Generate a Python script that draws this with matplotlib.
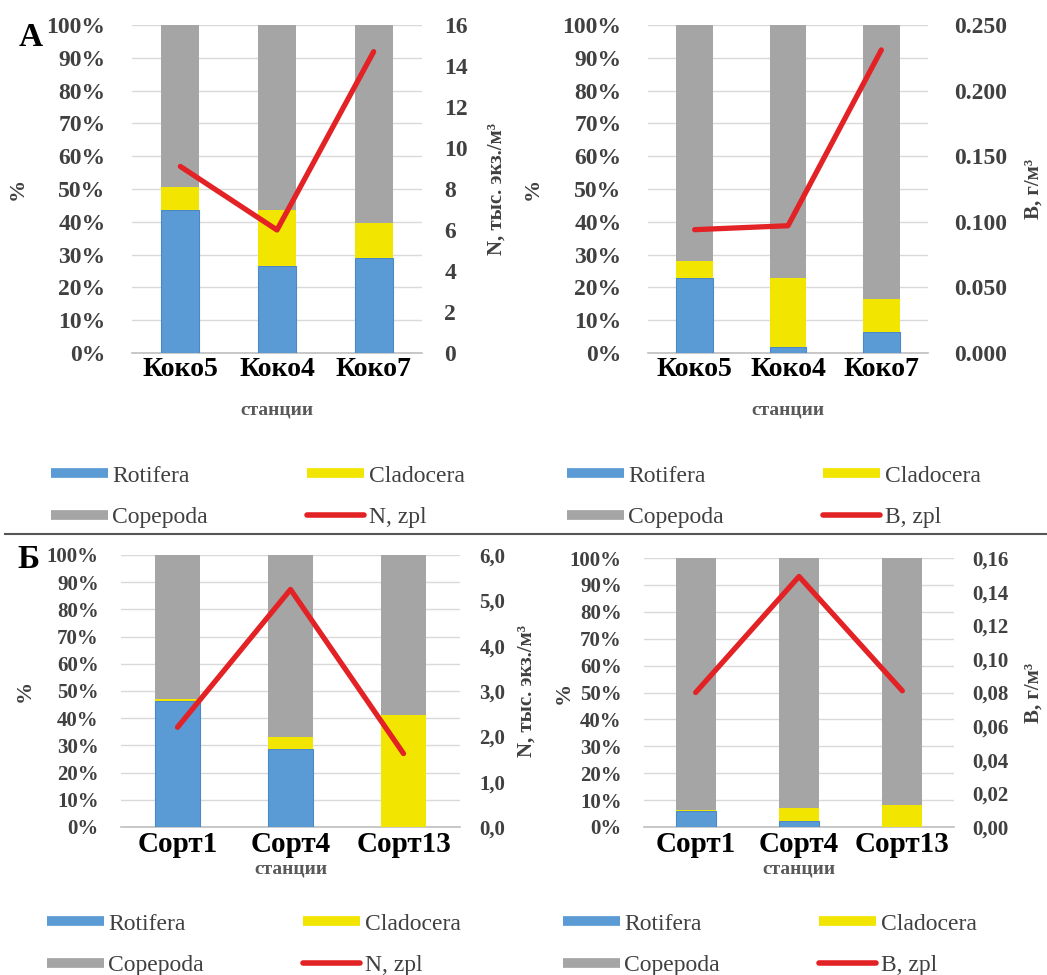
import numpy as np
import matplotlib
matplotlib.use("Agg")
import matplotlib.pyplot as plt
from matplotlib.lines import Line2D
from matplotlib.ticker import FuncFormatter

plt.rcParams['font.family'] = ['Liberation Serif', 'DejaVu Serif']

# =========================
# DATOS
# =========================
stations_koko = ["Коко5", "Коко4", "Коко7"]
stations_sort = ["Сорт1", "Сорт4", "Сорт13"]

# А, численность (%)
rot_n_koko  = [43.5, 26.5, 29.0]
clad_n_koko = [7.0, 17.0, 10.5]
cop_n_koko  = [49.5, 56.5, 60.5]
n_koko      = [9.1, 6.0, 14.7]

# А, биомасса (%)
rot_b_koko  = [23.0, 1.8, 6.5]
clad_b_koko = [5.0, 21.2, 10.0]
cop_b_koko  = [72.0, 77.0, 83.5]
b_koko      = [0.094, 0.097, 0.231]

# Б, численность (%)
rot_n_sort  = [46.5, 28.5, 0.0]
clad_n_sort = [0.5, 4.5, 41.0]
cop_n_sort  = [53.0, 67.0, 59.0]
n_sort      = [2.2, 5.24, 1.62]

# Б, биомасса (%)
rot_b_sort  = [6.0, 2.2, 0.0]
clad_b_sort = [0.5, 5.0, 8.2]
cop_b_sort  = [93.5, 92.8, 91.8]
b_sort      = [0.080, 0.149, 0.081]

BLUE   = "#5b9bd5"
YELLOW = "#f2e500"
GRAY   = "#a5a5a5"
RED    = "#e32226"
TXT    = "#404040"

fig = plt.figure(figsize=(10.47, 9.75), dpi=100)
W, H = 1047.0, 975.0


def rect(x0, y0, x1, y1):
    return [x0 / W, 1 - y1 / H, (x1 - x0) / W, (y1 - y0) / H]


def panel(r, names, rot, clad, cop, line, ymax2, step2, fmt2, ylab2,
          fs_y, fs_x, padl, padr, lab_x_left, lab_x_right, xlabpad):
    ax = fig.add_axes(r)
    x = np.arange(len(names))
    w = 0.39
    ax.bar(x, rot, w, color=BLUE, edgecolor="#4a88c6", linewidth=0.8, zorder=3)
    ax.bar(x, clad, w, bottom=rot, color=YELLOW, zorder=3)
    ax.bar(x, cop, w, bottom=np.add(rot, clad), color=GRAY, zorder=3)
    ax.set_xlim(-0.5, len(names) - 0.5)
    ax.set_ylim(0, 100)
    ax.set_yticks(np.arange(0, 101, 10))
    ax.set_yticklabels([f"{v}%" for v in range(0, 101, 10)])
    ax.yaxis.grid(True, color="#d9d9d9", linewidth=1.0, zorder=0)
    ax.set_axisbelow(True)
    for s in ["top", "right", "left"]:
        ax.spines[s].set_visible(False)
    ax.spines["bottom"].set_color("#bfbfbf")
    ax.spines["bottom"].set_linewidth(1.2)
    ax.tick_params(axis="y", length=0, pad=padl, labelsize=fs_y, labelcolor=TXT)
    ax.tick_params(axis="x", length=0, pad=3, labelsize=fs_x)
    ax.set_xticks(x)
    ax.set_xticklabels(names, fontweight="bold")
    for t in ax.get_yticklabels():
        t.set_fontweight("bold")
    ax.set_xlabel("станции", fontsize=14, fontweight="bold", color="#595959",
                  labelpad=xlabpad)

    ax2 = ax.twinx()
    ax2.plot(x, line, color=RED, linewidth=3.8, solid_capstyle="round", zorder=5)
    ax2.set_ylim(0, ymax2)
    ax2.set_yticks(np.arange(0, ymax2 + step2 / 2, step2))
    ax2.yaxis.set_major_formatter(FuncFormatter(fmt2))
    for s in ["top", "right", "left", "bottom"]:
        ax2.spines[s].set_visible(False)
    ax2.tick_params(axis="y", length=0, pad=padr, labelsize=fs_y, labelcolor=TXT)
    for t in ax2.get_yticklabels():
        t.set_fontweight("bold")

    # подписи осей
    yc = r[1] + r[3] / 2
    fig.text(lab_x_left / W, yc, "%", rotation=90, ha="center", va="center",
             fontsize=16, fontweight="bold", color=TXT)
    fig.text(lab_x_right / W, yc, ylab2, rotation=90, ha="center", va="center",
             fontsize=15, fontweight="bold", color=TXT)
    return ax


panel(rect(132, 25, 422, 353), stations_koko, rot_n_koko, clad_n_koko, cop_n_koko,
      n_koko, 16, 2, lambda v, p: f"{v:.0f}", "N, тыс. экз./м³",
      17, 20, 19, 16, 18, 497, 14)
panel(rect(648, 25, 928, 353), stations_koko, rot_b_koko, clad_b_koko, cop_b_koko,
      b_koko, 0.25, 0.05, lambda v, p: f"{v:.3f}", "B, г/м³",
      17, 20, 19, 19, 533, 1034, 14)
panel(rect(121, 555, 460, 827), stations_sort, rot_n_sort, clad_n_sort, cop_n_sort,
      n_sort, 6, 1, lambda v, p: f"{v:.1f}".replace(".", ","), "N, тыс. экз./м³",
      15, 21, 16, 14, 25, 527, 2)
panel(rect(644, 558, 954, 827), stations_sort, rot_b_sort, clad_b_sort, cop_b_sort,
      b_sort, 0.16, 0.02, lambda v, p: f"{v:.2f}".replace(".", ","), "B, г/м³",
      15, 21, 16, 13, 564, 1034, 2)

# =========================
# ЛЕГЕНДЫ
# =========================
def legend(x0, y0, line_label):
    handles = [Line2D([], [], color=BLUE, lw=7, solid_capstyle="butt"),
               Line2D([], [], color=GRAY, lw=7, solid_capstyle="butt"),
               Line2D([], [], color=YELLOW, lw=7, solid_capstyle="butt"),
               Line2D([], [], color=RED, lw=4, solid_capstyle="round")]
    labels = ["Rotifera", "Copepoda", "Cladocera", line_label]
    fig.legend(handles, labels, loc="upper left", bbox_to_anchor=(x0 / W, 1 - y0 / H),
               ncol=2, frameon=False, fontsize=17, handlelength=2.4,
               handletextpad=0.2, columnspacing=4.2, labelspacing=0.85,
               borderpad=0, borderaxespad=0, labelcolor=TXT)


legend(51, 465, "N, zpl")
legend(567, 465, "B, zpl")
legend(47, 913, "N, zpl")
legend(563, 913, "B, zpl")

# разделитель и буквы
fig.add_artist(Line2D([5 / W, 1.0], [1 - 534 / H, 1 - 534 / H], color="#555555", lw=1.5))
fig.text(31 / W, 1 - 38 / H, "А", fontsize=24, fontweight="bold", ha="center", va="center")
fig.text(28 / W, 1 - 560 / H, "Б", fontsize=24, fontweight="bold", ha="center", va="center")

plt.savefig("out.png", dpi=100)
